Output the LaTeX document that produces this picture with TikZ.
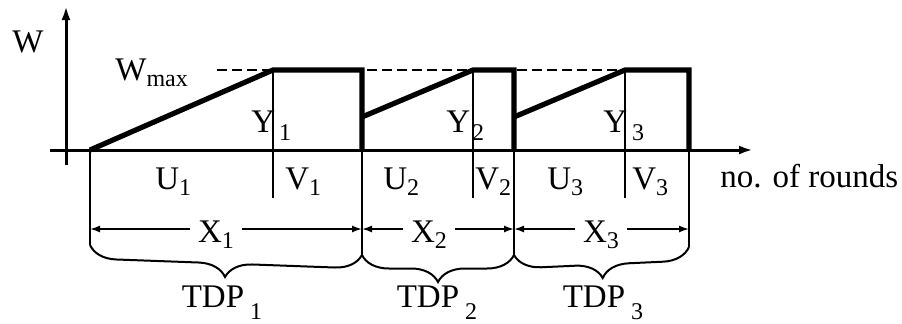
\documentclass[tikz,border=0pt]{standalone}
\usepackage{fontspec}
\setmainfont{Liberation Serif}
\usetikzlibrary{decorations.pathreplacing,arrows.meta}
\newcommand\sbs[2][4pt]{\raisebox{-#1}{\fontsize{12}{12}\selectfont #2}}
\begin{document}
\begin{tikzpicture}[x=0.5pt,y=-0.5pt,
  lbl/.style={font=\fontsize{16.5}{19}\selectfont, inner sep=0pt, anchor=base west},
  thickln/.style={line width=2.6pt, line join=miter},
  thinln/.style={line width=1pt},
  axisln/.style={line width=1.5pt, -{Latex[length=7pt,width=4.5pt]}},
  dimln/.style={line width=0.8pt, {Latex[length=5pt,width=3.5pt]}-{Latex[length=5pt,width=3.5pt]}},
  dimlbl/.style={font=\fontsize{16.5}{19}\selectfont, fill=white, inner xsep=4pt, inner ysep=1pt, anchor=base},
  dashln/.style={line width=1pt, dash pattern=on 5pt off 2.5pt},
  brc/.style={decorate, decoration={brace, amplitude=13.5pt}, line width=1pt}]
\useasboundingbox (0,0) rectangle (902,323);
% axes
\coordinate (ybot) at (66,165);
\coordinate (ytop) at (66,6);
\coordinate (xl) at (50,150);
\coordinate (xr) at (753,150);
\draw[axisln] (ybot) -- (ytop);
\draw[axisln] (xl) -- (xr);
% key points
\coordinate (s0) at (90,150);
\coordinate (a1) at (273,70);
\coordinate (b1) at (362,70);
\coordinate (c1) at (362,150);
\coordinate (d1) at (362,117);
\coordinate (a2) at (473,70);
\coordinate (b2) at (514,70);
\coordinate (c2) at (514,150);
\coordinate (d2) at (514,117);
\coordinate (a3) at (625,70);
\coordinate (b3) at (689,70);
\coordinate (c3) at (689,150);
\coordinate (dstart) at (217,70);
% dashed Wmax level
\draw[dashln] (dstart) -- (a3);
% thin verticals
\coordinate (t0) at (90,245);
\coordinate (t1) at (362,255);
\coordinate (t2) at (514,255);
\coordinate (t3) at (689,247);
\coordinate (y1b) at (273,198);
\coordinate (y2b) at (473,198);
\coordinate (y3b) at (625,198);
\draw[thinln] (s0) -- (t0);
\draw[thinln] (c1) -- (t1);
\draw[thinln] (c2) -- (t2);
\draw[thinln] (c3) -- (t3);
\draw[thinln] (a1) -- (y1b);
\draw[thinln] (a2) -- (y2b);
\draw[thinln] (a3) -- (y3b);
% thick window curve
\draw[thickln] (s0) -- (a1) -- (b1) -- (c1);
\draw[thickln] (d1) -- (a2) -- (b2) -- (c2);
\draw[thickln] (d2) -- (a3) -- (b3) -- (c3);
% axis labels
\node[lbl] (wl) at (12,52) {W};
\node[lbl] (wmax) at (115,80) {W\sbs[3pt]{max}};
\node[lbl] (nr) at (720,187) {no. of rounds};
% Y labels
\node[lbl] (ly1) at (251,132) {Y\hspace{2pt}\sbs{1}};
\node[lbl] (ly2) at (446,132) {Y\hspace{1pt}\sbs{2}};
\node[lbl] (ly3) at (603,132) {Y\hspace{2.5pt}\sbs{3}};
% U / V labels
\node[lbl] (lu1) at (155,189) {U\sbs[3pt]{1}};
\node[lbl] (lv1) at (285,189) {V\sbs[3pt]{1}};
\node[lbl] (lu2) at (383,189) {U\sbs[3pt]{2}};
\node[lbl] (lv2) at (475,189) {V\sbs[3pt]{2}};
\node[lbl] (lu3) at (547,189) {U\sbs[3pt]{3}};
\node[lbl] (lv3) at (632,189) {V\sbs[3pt]{3}};
% X dimension lines
\coordinate (k0) at (90,229);
\coordinate (k1) at (362,229);
\coordinate (k2) at (514,229);
\coordinate (k3) at (689,229);
\draw[dimln] (k0) -- (k1);
\draw[dimln] (k1) -- (k2);
\draw[dimln] (k2) -- (k3);
\node[dimlbl] (lx1) at (216,242) {X\sbs[3pt]{1}};
\node[dimlbl] (lx2) at (429,242) {X\sbs[3pt]{2}};
\node[dimlbl] (lx3) at (601,242) {X\sbs[3pt]{3}};
% braces
\draw[brc] (t1) -- (t0);
\draw[brc] (t2) -- (t1);
\draw[brc] (t3) -- (t2);
% TDP labels
\node[lbl, anchor=base] (tdp1) at (222,307) {TDP\hspace{3pt}\sbs[6pt]{1}};
\node[lbl, anchor=base] (tdp2) at (437,307) {TDP\hspace{3pt}\sbs[6pt]{2}};
\node[lbl, anchor=base] (tdp3) at (603,307) {TDP\hspace{3pt}\sbs[6pt]{3}};
\end{tikzpicture}
\end{document}
